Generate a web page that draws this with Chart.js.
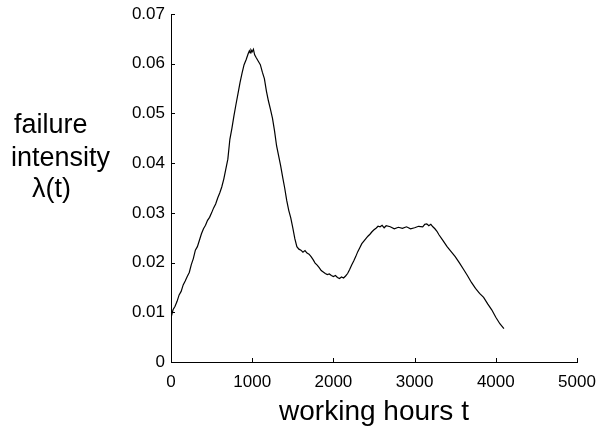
<!DOCTYPE html>
<html>
<head>
<meta charset="utf-8">
<script src="https://cdn.jsdelivr.net/npm/chart.js@4/dist/chart.umd.min.js"></script>
<style>
  html, body { margin: 0; padding: 0; background: #fff; }
  #wrap { width: 597px; height: 429px; }
</style>
</head>
<body>
<div id="wrap"><canvas id="c" width="597" height="429"></canvas></div>
<script>
// working hours t
const hours = [
  0, 25, 50, 75, 100, 125, 150, 175, 200, 225, 250, 275, 300, 325, 350, 375,
  400, 425, 450, 475, 500, 525, 550, 575, 600, 625, 650, 675, 700, 725, 750, 775,
  800, 825, 850, 875, 900, 925, 950, 965, 975, 985, 1000, 1015, 1030, 1050, 1075,
  1100, 1125, 1150, 1175, 1200, 1225, 1250, 1275, 1300, 1325, 1350, 1375, 1400,
  1425, 1450, 1475, 1500, 1525, 1550, 1575, 1600, 1625, 1650, 1675, 1700, 1725,
  1750, 1775, 1800, 1825, 1850, 1875, 1900, 1925, 1950, 1975, 2000, 2025, 2050,
  2075, 2100, 2125, 2150, 2175, 2200, 2225, 2250, 2275, 2300, 2325, 2350, 2375,
  2400, 2425, 2450, 2475, 2500, 2525, 2550, 2575, 2600, 2625, 2650, 2700, 2750,
  2800, 2850, 2900, 2950, 3000, 3050, 3100, 3125, 3150, 3175, 3200, 3225, 3250,
  3275, 3300, 3350, 3400, 3450, 3500, 3550, 3600, 3650, 3700, 3750, 3800, 3850,
  3900, 3950, 4000, 4050, 4100
];

// failure intensity lambda(t)
const intensity = [
  0.0089, 0.0105, 0.0112, 0.0122, 0.0135, 0.0142, 0.0155, 0.0163, 0.0172, 0.0180,
  0.0196, 0.0208, 0.0225, 0.0232, 0.0245, 0.0258, 0.0268, 0.0275, 0.0285, 0.0291,
  0.0300, 0.0310, 0.0318, 0.0330, 0.0340, 0.0352, 0.0368, 0.0388, 0.0408, 0.0448,
  0.0470, 0.0495, 0.0518, 0.0540, 0.0562, 0.0581, 0.0598, 0.0608, 0.0620, 0.0626,
  0.0622, 0.0628, 0.0624, 0.0629, 0.0618, 0.0612, 0.0605, 0.0598, 0.0583, 0.0570,
  0.0545, 0.0525, 0.0508, 0.0490, 0.0465, 0.0435, 0.0415, 0.0395, 0.0372, 0.0350,
  0.0325, 0.0305, 0.0290, 0.0270, 0.0248, 0.0232, 0.0227, 0.0225, 0.0221, 0.0224,
  0.0219, 0.0217, 0.0212, 0.0206, 0.0199, 0.0195, 0.0190, 0.0184, 0.0181, 0.0178,
  0.0176, 0.0177, 0.0174, 0.0172, 0.0174, 0.0170, 0.0168, 0.0171, 0.0169, 0.0173,
  0.0178, 0.0186, 0.0195, 0.0203, 0.0212, 0.0222, 0.0230, 0.0238, 0.0243, 0.0248,
  0.0253, 0.0257, 0.0262, 0.0266, 0.0269, 0.0273, 0.0272, 0.0275, 0.0270, 0.0274,
  0.0272, 0.0268, 0.0271, 0.0269, 0.0272, 0.0268, 0.0270, 0.0273, 0.0272, 0.0277,
  0.0278, 0.0274, 0.0277, 0.0272, 0.0268, 0.0263, 0.0256, 0.0244, 0.0232, 0.0222,
  0.0212, 0.0200, 0.0187, 0.0174, 0.0160, 0.0148, 0.0138, 0.0130, 0.0117, 0.0105,
  0.0090, 0.0077, 0.0067
];

const xTicks = [0, 1000, 2000, 3000, 4000, 5000];
const yTicks = [0, 0.01, 0.02, 0.03, 0.04, 0.05, 0.06, 0.07];
const yLabelLines = ['failure', 'intensity', '\u03bb(t)'];

const font = 'Liberation Sans, Arial, sans-serif';

// matlab style: short ticks pointing into the plot + the left label block
const extras = {
  id: 'extras',
  afterDraw(chart) {
    const { ctx, chartArea: a } = chart;
    const xs = chart.scales.x, ys = chart.scales.y;
    ctx.save();
    ctx.strokeStyle = '#000';
    ctx.lineWidth = 1;
    ctx.beginPath();
    xTicks.forEach(v => {
      const px = Math.round(xs.getPixelForValue(v)) + 0.5;
      ctx.moveTo(px, a.bottom);
      ctx.lineTo(px, a.bottom - 4);
    });
    yTicks.forEach(v => {
      const py = Math.round(ys.getPixelForValue(v)) + 0.5;
      ctx.moveTo(a.left, py);
      ctx.lineTo(a.left + 4, py);
    });
    ctx.stroke();

    ctx.fillStyle = '#000';
    ctx.font = '27px ' + font;
    ctx.textBaseline = 'alphabetic';
    ctx.textAlign = 'left';
    const xs0 = [14, 11, 32];
    const bases = [133, 166, 197];
    yLabelLines.forEach((t, i) => ctx.fillText(t, xs0[i], bases[i]));
    ctx.restore();
  }
};

new Chart(document.getElementById('c'), {
  type: 'line',
  data: {
    datasets: [{
      data: hours.map((h, i) => ({ x: h, y: intensity[i] })),
      borderColor: '#000',
      borderWidth: 1.2,
      pointRadius: 0,
      tension: 0,
      fill: false
    }]
  },
  options: {
    responsive: false,
    animation: false,
    layout: { padding: { left: 0, right: 20, top: 14, bottom: 0 } },
    plugins: { legend: { display: false }, tooltip: { enabled: false } },
    scales: {
      x: {
        type: 'linear',
        min: 0,
        max: 5000,
        afterFit(s) { s.height = 67; s.paddingLeft = 0; s.paddingRight = 0; },
        afterBuildTicks(s) { s.ticks = xTicks.map(v => ({ value: v })); },
        grid: { display: false, drawTicks: false },
        border: { display: true, color: '#000', width: 1 },
        ticks: {
          color: '#000',
          font: { family: font, size: 17 },
          padding: 10,
          maxRotation: 0,
          callback: v => String(v)
        },
        title: {
          display: true,
          text: 'working hours t',
          color: '#000',
          font: { family: font, size: 28 },
          padding: { top: 0, bottom: 0 }
        }
      },
      y: {
        min: 0,
        max: 0.07,
        afterFit(s) { s.width = 171; s.paddingTop = 0; s.paddingBottom = 0; },
        afterBuildTicks(s) { s.ticks = yTicks.map(v => ({ value: v })); },
        grid: { display: false, drawTicks: false },
        border: { display: true, color: '#000', width: 1 },
        ticks: {
          color: '#000',
          font: { family: font, size: 17 },
          padding: 6,
          callback: v => v === 0 ? '0' : v.toFixed(2)
        }
      }
    }
  },
  plugins: [extras]
});
</script>
</body>
</html>
